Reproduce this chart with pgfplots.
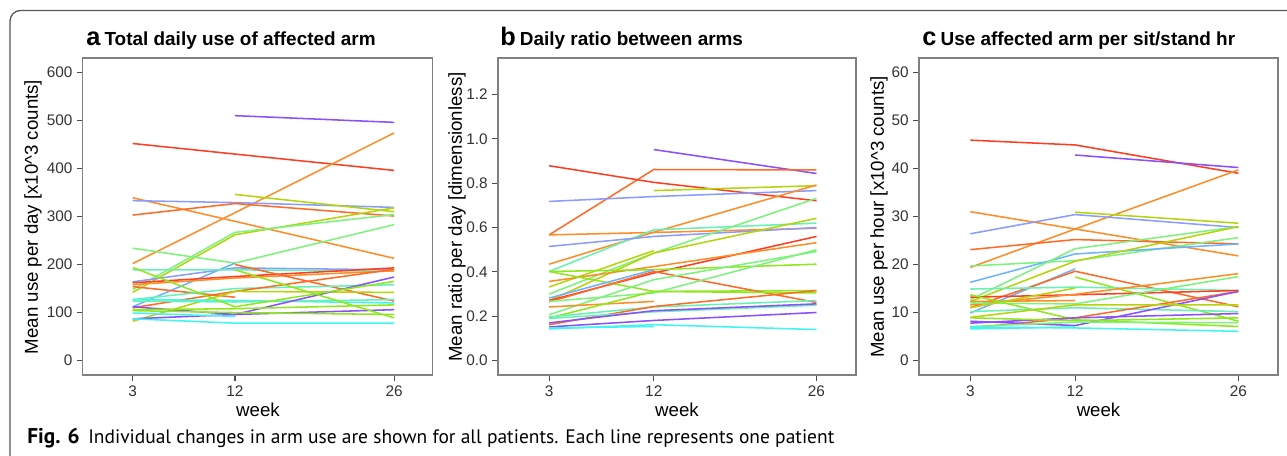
\documentclass[border=0pt]{standalone}
\usepackage{pgfplots}
\pgfplotsset{compat=1.18}
\usepackage{fontspec}
\setmainfont{Liberation Sans}
\newfontfamily\capfont{PT Sans}
\definecolor{R}{HTML}{FF3D1F}
\definecolor{OR}{HTML}{FF6A26}
\definecolor{O}{HTML}{FF8C26}
\definecolor{OL}{HTML}{B5D40A}
\definecolor{YG}{HTML}{8FE81A}
\definecolor{LG}{HTML}{7DF27D}
\definecolor{AG}{HTML}{66F2B3}
\definecolor{CY}{HTML}{40F5F2}
\definecolor{LB}{HTML}{6BB3FF}
\definecolor{BL}{HTML}{8A9CFF}
\definecolor{PU}{HTML}{8A4FFF}
\pgfplotsset{
  panel/.style={
    scale only axis, height=237.75pt, anchor=south west,
    xmin=-1.4, xmax=29.4, xtick={3,12,26},
    xtick pos=bottom, ytick pos=left,
    tick align=outside, major tick length=4.2pt,
    axis line style={black!50, line width=0.8pt},
    every tick/.style={black!70, line width=0.8pt},
    tick label style={font=\fontsize{11.5}{13}\selectfont, text=black!80},
    /pgf/number format/assume math mode=true,
    every axis plot/.style={line width=1.15pt, no marks},
  }
}
\begin{document}
\begin{tikzpicture}
\clip (0,0) rectangle (965.25pt,341.25pt);
\useasboundingbox (0,0) rectangle (965.25pt,341.25pt);
\fill[white] (0,0) rectangle (965.25pt,341.25pt);
\draw[black!65, line width=1pt, rounded corners=8pt] (7.5pt,-15pt) -- (7.5pt,333.4pt) -- (990pt,333.4pt);

% ---------- Panel a ----------
\begin{axis}[panel, at={(62.03pt,60pt)}, width=262.5pt,
  ymin=-30, ymax=630, ytick={0,100,...,600}]
\addplot[PU] coordinates {(12,510)(26,496)};
\addplot[R] coordinates {(3,452)(12,430)(26,396)};
\addplot[O] coordinates {(3,202)(12,308)(26,474)};
\addplot[O] coordinates {(3,339)(12,290)(26,213)};
\addplot[BL] coordinates {(3,333)(12,329)(26,319)};
\addplot[OR] coordinates {(3,303)(12,327)(26,301)};
\addplot[OL] coordinates {(12,346)(26,310)};
\addplot[OL] coordinates {(3,142)(12,262)(26,318)};
\addplot[LG] coordinates {(3,148)(12,267)(26,304)};
\addplot[LG] coordinates {(3,234)(12,203)(26,283)};
\addplot[LB] coordinates {(3,112)(12,203)};
\addplot[BL] coordinates {(3,164)(12,193)(26,189)};
\addplot[AG] coordinates {(3,189)(12,189)(26,186)};
\addplot[R] coordinates {(3,162)(12,175)(26,193)};
\addplot[O] coordinates {(3,158)(12,172)(26,187)};
\addplot[OR] coordinates {(3,154)(12,132)};
\addplot[OR] coordinates {(12,200)(26,124)};
\addplot[AG] coordinates {(3,127)(12,150)(26,158)};
\addplot[OR] coordinates {(3,110)(12,144)(26,190)};
\addplot[OL] coordinates {(3,82)(12,144)(26,142)};
\addplot[CY] coordinates {(3,127)(12,125)(26,120)};
\addplot[AG] coordinates {(3,124)(12,122)(26,127)};
\addplot[PU] coordinates {(3,112)(12,96)(26,174)};
\addplot[PU] coordinates {(3,87)(12,96)(26,106)};
\addplot[YG] coordinates {(3,106)(12,108)(26,116)};
\addplot[YG] coordinates {(3,104)(12,100)(26,96)};
\addplot[CY] coordinates {(3,99)(12,92)};
\addplot[CY] coordinates {(3,87)(12,78)(26,78)};
\addplot[YG] coordinates {(3,194)(12,112)(26,165)};
\addplot[YG] coordinates {(12,189)(26,89)};
\end{axis}

% ---------- Panel b ----------
\begin{axis}[panel, at={(373.5pt,60pt)}, width=268.5pt,
  ymin=-0.065, ymax=1.365, ytick={0,0.2,...,1.2},
  yticklabels={0.0,0.2,0.4,0.6,0.8,1.0,1.2}]
\addplot[PU] coordinates {(12,0.952)(26,0.844)};
\addplot[OR] coordinates {(3,0.567)(12,0.862)(26,0.860)};
\addplot[R] coordinates {(3,0.879)(12,0.804)(26,0.721)};
\addplot[OL] coordinates {(12,0.767)(26,0.789)};
\addplot[BL] coordinates {(3,0.718)(12,0.740)(26,0.767)};
\addplot[O] coordinates {(3,0.567)(12,0.578)(26,0.597)};
\addplot[O] coordinates {(3,0.435)(12,0.579)(26,0.792)};
\addplot[AG] coordinates {(3,0.402)(12,0.590)(26,0.620)};
\addplot[BL] coordinates {(3,0.515)(12,0.560)(26,0.600)};
\addplot[LG] coordinates {(3,0.300)(12,0.485)(26,0.732)};
\addplot[OL] coordinates {(3,0.332)(12,0.496)};
\addplot[OL] coordinates {(3,0.270)(12,0.485)(26,0.642)};
\addplot[R] coordinates {(3,0.271)(12,0.395)(26,0.560)};
\addplot[O] coordinates {(3,0.357)(12,0.424)(26,0.532)};
\addplot[YG] coordinates {(3,0.402)(12,0.410)(26,0.435)};
\addplot[YG] coordinates {(3,0.402)(12,0.312)(26,0.316)};
\addplot[LB] coordinates {(3,0.282)(12,0.410)};
\addplot[OR] coordinates {(3,0.265)(12,0.402)(26,0.262)};
\addplot[LG] coordinates {(3,0.267)(12,0.305)(26,0.500)};
\addplot[LG] coordinates {(3,0.207)(12,0.365)(26,0.492)};
\addplot[O] coordinates {(3,0.242)(12,0.267)};
\addplot[YG] coordinates {(3,0.192)(12,0.312)(26,0.305)};
\addplot[AG] coordinates {(3,0.197)(12,0.242)(26,0.271)};
\addplot[OR] coordinates {(3,0.162)(12,0.244)(26,0.316)};
\addplot[AG] coordinates {(3,0.190)(12,0.220)(26,0.250)};
\addplot[PU] coordinates {(3,0.170)(12,0.225)(26,0.256)};
\addplot[PU] coordinates {(3,0.152)(12,0.181)(26,0.217)};
\addplot[CY] coordinates {(3,0.147)(12,0.154)};
\addplot[CY] coordinates {(3,0.143)(12,0.162)(26,0.140)};
\end{axis}

% ---------- Panel c ----------
\begin{axis}[panel, at={(689.25pt,60pt)}, width=269.25pt,
  ymin=-3, ymax=63, ytick={0,10,...,60}]
\addplot[R] coordinates {(3,45.9)(12,44.9)(26,39.0)};
\addplot[PU] coordinates {(12,42.8)(26,40.2)};
\addplot[O] coordinates {(3,19.4)(12,27.4)(26,39.7)};
\addplot[O] coordinates {(3,31.0)(12,27.4)(26,21.8)};
\addplot[BL] coordinates {(3,26.4)(12,30.4)(26,27.7)};
\addplot[OL] coordinates {(12,30.9)(26,28.6)};
\addplot[OR] coordinates {(3,23.1)(12,25.2)(26,24.3)};
\addplot[LG] coordinates {(3,19.7)(12,20.8)(26,25.6)};
\addplot[LB] coordinates {(3,16.3)(12,22.2)(26,24.3)};
\addplot[LG] coordinates {(3,12.7)(12,23.3)(26,27.9)};
\addplot[OL] coordinates {(3,12.3)(12,20.7)(26,27.9)};
\addplot[LB] coordinates {(3,9.9)(12,19.1)};
\addplot[OR] coordinates {(3,11.0)(12,18.6)(26,11.2)};
\addplot[YG] coordinates {(12,17.4)(26,8.2)};
\addplot[AG] coordinates {(3,14.9)(12,15.3)(26,14.6)};
\addplot[R] coordinates {(3,13.2)(12,13.7)(26,14.6)};
\addplot[O] coordinates {(3,12.3)(12,12.5)};
\addplot[O] coordinates {(3,11.6)(12,13.8)(26,18.1)};
\addplot[LG] coordinates {(3,12.0)(12,11.8)(26,17.5)};
\addplot[OL] coordinates {(3,11.0)(12,15.1)};
\addplot[YG] coordinates {(3,13.7)(12,8.5)(26,7.1)};
\addplot[AG] coordinates {(3,10.2)(12,11.0)(26,10.2)};
\addplot[OR] coordinates {(3,6.8)(12,8.9)(26,14.4)};
\addplot[PU] coordinates {(3,8.2)(12,7.3)(26,14.4)};
\addplot[PU] coordinates {(3,7.8)(12,8.9)(26,9.8)};
\addplot[YG] coordinates {(3,8.9)(12,8.3)(26,8.9)};
\addplot[OL] coordinates {(3,9.0)(12,11.6)(26,11.6)};
\addplot[LG] coordinates {(3,7.1)(12,8.0)(26,7.9)};
\addplot[CY] coordinates {(3,7.0)(12,6.8)(26,6.1)};
\addplot[CY] coordinates {(3,6.6)(12,7.0)};
\end{axis}

% ---------- Texts ----------
\node[anchor=base west, inner sep=0pt] at (64.5pt,307.1pt) {\bfseries\fontsize{19}{20}\selectfont a\,\fontsize{14.2}{16}\selectfont Total daily use of affected arm};
\node[anchor=base west, inner sep=0pt] at (375pt,307.1pt) {\bfseries\fontsize{19}{20}\selectfont b\,\fontsize{14.2}{16}\selectfont Daily ratio between arms};
\node[anchor=base west, inner sep=0pt] at (691.5pt,307.1pt) {\bfseries\fontsize{19}{20}\selectfont c\,\fontsize{14.2}{16}\selectfont Use affected arm per sit/stand hr};

\node[rotate=90, inner sep=0pt, font=\fontsize{14}{16}\selectfont] at (24.75pt,178.5pt) {Mean use per day [x10\textasciicircum 3 counts]};
\node[rotate=90, inner sep=0pt, font=\fontsize{14}{16}\selectfont] at (342.75pt,178.5pt) {Mean ratio per day [dimensionless]};
\node[rotate=90, inner sep=0pt, font=\fontsize{14}{16}\selectfont] at (659.25pt,178.5pt) {Mean use per hour [x10\textasciicircum 3 counts]};

\node[anchor=base, inner sep=0pt, font=\fontsize{14}{16}\selectfont] at (193.5pt,29.25pt) {week};
\node[anchor=base, inner sep=0pt, font=\fontsize{14}{16}\selectfont] at (507.75pt,29.25pt) {week};
\node[anchor=base, inner sep=0pt, font=\fontsize{14}{16}\selectfont] at (823.9pt,29.25pt) {week};

\node[anchor=base west, inner sep=0pt, font=\capfont\fontsize{16}{18}\selectfont\bfseries] at (20.25pt,9pt) {Fig. 6};
\node[anchor=base west, inner sep=0pt, font=\capfont\fontsize{14.6}{16}\selectfont] at (66pt,9pt) {Individual changes in arm use are shown for all patients. Each line represents one patient};
\end{tikzpicture}
\end{document}
